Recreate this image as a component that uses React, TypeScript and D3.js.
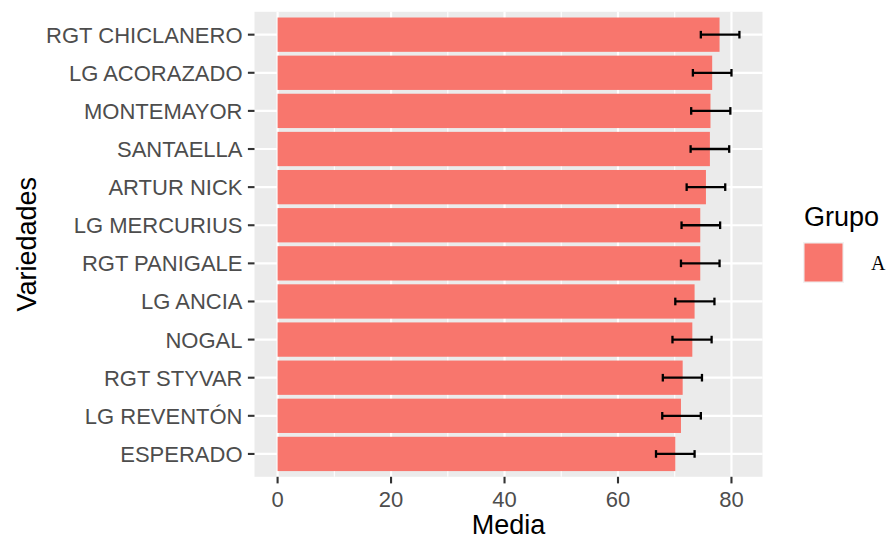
import React from "react";
import * as d3 from "d3";

const categories = [
  "RGT CHICLANERO",
  "LG ACORAZADO",
  "MONTEMAYOR",
  "SANTAELLA",
  "ARTUR NICK",
  "LG MERCURIUS",
  "RGT PANIGALE",
  "LG ANCIA",
  "NOGAL",
  "RGT STYVAR",
  "LG REVENTÓN",
  "ESPERADO",
];
const means = [77.9, 76.6, 76.3, 76.2, 75.5, 74.5, 74.5, 73.5, 73.1, 71.4, 71.1, 70.1];
const lower = [74.6, 73.2, 72.9, 72.8, 72.1, 71.2, 71.1, 70.1, 69.6, 67.9, 67.8, 66.7];
const upper = [81.4, 80.0, 79.8, 79.6, 78.9, 78.0, 77.9, 77.0, 76.5, 74.8, 74.6, 73.5];
const xTicks = [0, 20, 40, 60, 80];
const xMinor = [10, 30, 50, 70];
const groupLabel = "A";

const W = 886;
const H = 539;
const panel = { left: 254.5, right: 762.5, top: 11.8, bottom: 476.8 };
const FILL = "#F8766D";
const FONT = "'Liberation Sans', Arial, sans-serif";

export default function App() {
  const maxV = d3.max(upper) as number;
  const dMin = 0 - maxV * 0.05;
  const dMax = maxV * 1.05;
  const x = d3.scaleLinear().domain([dMin, dMax]).range([panel.left, panel.right]);

  const n = categories.length;
  const step = (panel.bottom - panel.top) / (n - 1 + 1.2);
  const y = d3
    .scalePoint<string>()
    .domain(categories)
    .range([panel.top + 0.6 * step, panel.bottom - 0.6 * step]);
  const barH = step * 0.9;
  const capH = step * 0.2;

  return (
    <svg
      width={W}
      height={H}
      style={{ position: "absolute", left: 0, top: 0, background: "#fff" }}
      fontFamily={FONT}
    >
      <rect x={0} y={0} width={W} height={H} fill="#fff" />
      <rect
        x={panel.left}
        y={panel.top}
        width={panel.right - panel.left}
        height={panel.bottom - panel.top}
        fill="#EBEBEB"
      />
      {xMinor.map((t) => (
        <line
          key={"mn" + t}
          x1={x(t)}
          x2={x(t)}
          y1={panel.top}
          y2={panel.bottom}
          stroke="#fff"
          strokeWidth={1.1}
        />
      ))}
      {xTicks.map((t) => (
        <line
          key={"mj" + t}
          x1={x(t)}
          x2={x(t)}
          y1={panel.top}
          y2={panel.bottom}
          stroke="#fff"
          strokeWidth={2.2}
        />
      ))}
      {categories.map((c) => (
        <line
          key={"hg" + c}
          x1={panel.left}
          x2={panel.right}
          y1={y(c)!}
          y2={y(c)!}
          stroke="#fff"
          strokeWidth={2.2}
        />
      ))}
      {categories.map((c, i) => (
        <rect
          key={"bar" + c}
          x={x(0)}
          y={y(c)! - barH / 2}
          width={x(means[i]) - x(0)}
          height={barH}
          fill={FILL}
        />
      ))}
      {categories.map((c, i) => {
        const cy = y(c)!;
        return (
          <g key={"eb" + c} stroke="#000" strokeWidth={2.3}>
            <line x1={x(lower[i])} x2={x(upper[i])} y1={cy} y2={cy} />
            <line x1={x(lower[i])} x2={x(lower[i])} y1={cy - capH / 2} y2={cy + capH / 2} />
            <line x1={x(upper[i])} x2={x(upper[i])} y1={cy - capH / 2} y2={cy + capH / 2} />
          </g>
        );
      })}
      {/* y axis */}
      {categories.map((c) => (
        <g key={"yt" + c}>
          <line
            x1={panel.left - 6.6}
            x2={panel.left}
            y1={y(c)!}
            y2={y(c)!}
            stroke="#333333"
            strokeWidth={2.1}
          />
          <text
            x={panel.left - 12}
            y={y(c)!}
            dy="0.36em"
            textAnchor="end"
            fontSize={22}
            fill="#4D4D4D"
          >
            {c}
          </text>
        </g>
      ))}
      {/* x axis */}
      {xTicks.map((t) => (
        <g key={"xt" + t}>
          <line
            x1={x(t)}
            x2={x(t)}
            y1={panel.bottom}
            y2={panel.bottom + 6.6}
            stroke="#333333"
            strokeWidth={2.1}
          />
          <text x={x(t)} y={507} textAnchor="middle" fontSize={22} fill="#4D4D4D">
            {t}
          </text>
        </g>
      ))}
      <text
        x={(panel.left + panel.right) / 2}
        y={533.5}
        textAnchor="middle"
        fontSize={27}
        fill="#000"
      >
        Media
      </text>
      <text
        transform={`translate(35.5, ${(panel.top + panel.bottom) / 2}) rotate(-90)`}
        textAnchor="middle"
        fontSize={27}
        fill="#000"
      >
        Variedades
      </text>
      {/* legend */}
      <text x={804} y={226} fontSize={27} fill="#000">
        Grupo
      </text>
      <rect x={803} y={242} width={41} height={41} fill="#F2F2F2" />
      <rect x={804.5} y={243.5} width={38} height={38} fill={FILL} />
      <text
        x={871}
        y={270}
        fontSize={20}
        fill="#000"
        fontFamily="'Liberation Serif', 'DejaVu Serif', serif"
      >
        {groupLabel}
      </text>
    </svg>
  );
}
